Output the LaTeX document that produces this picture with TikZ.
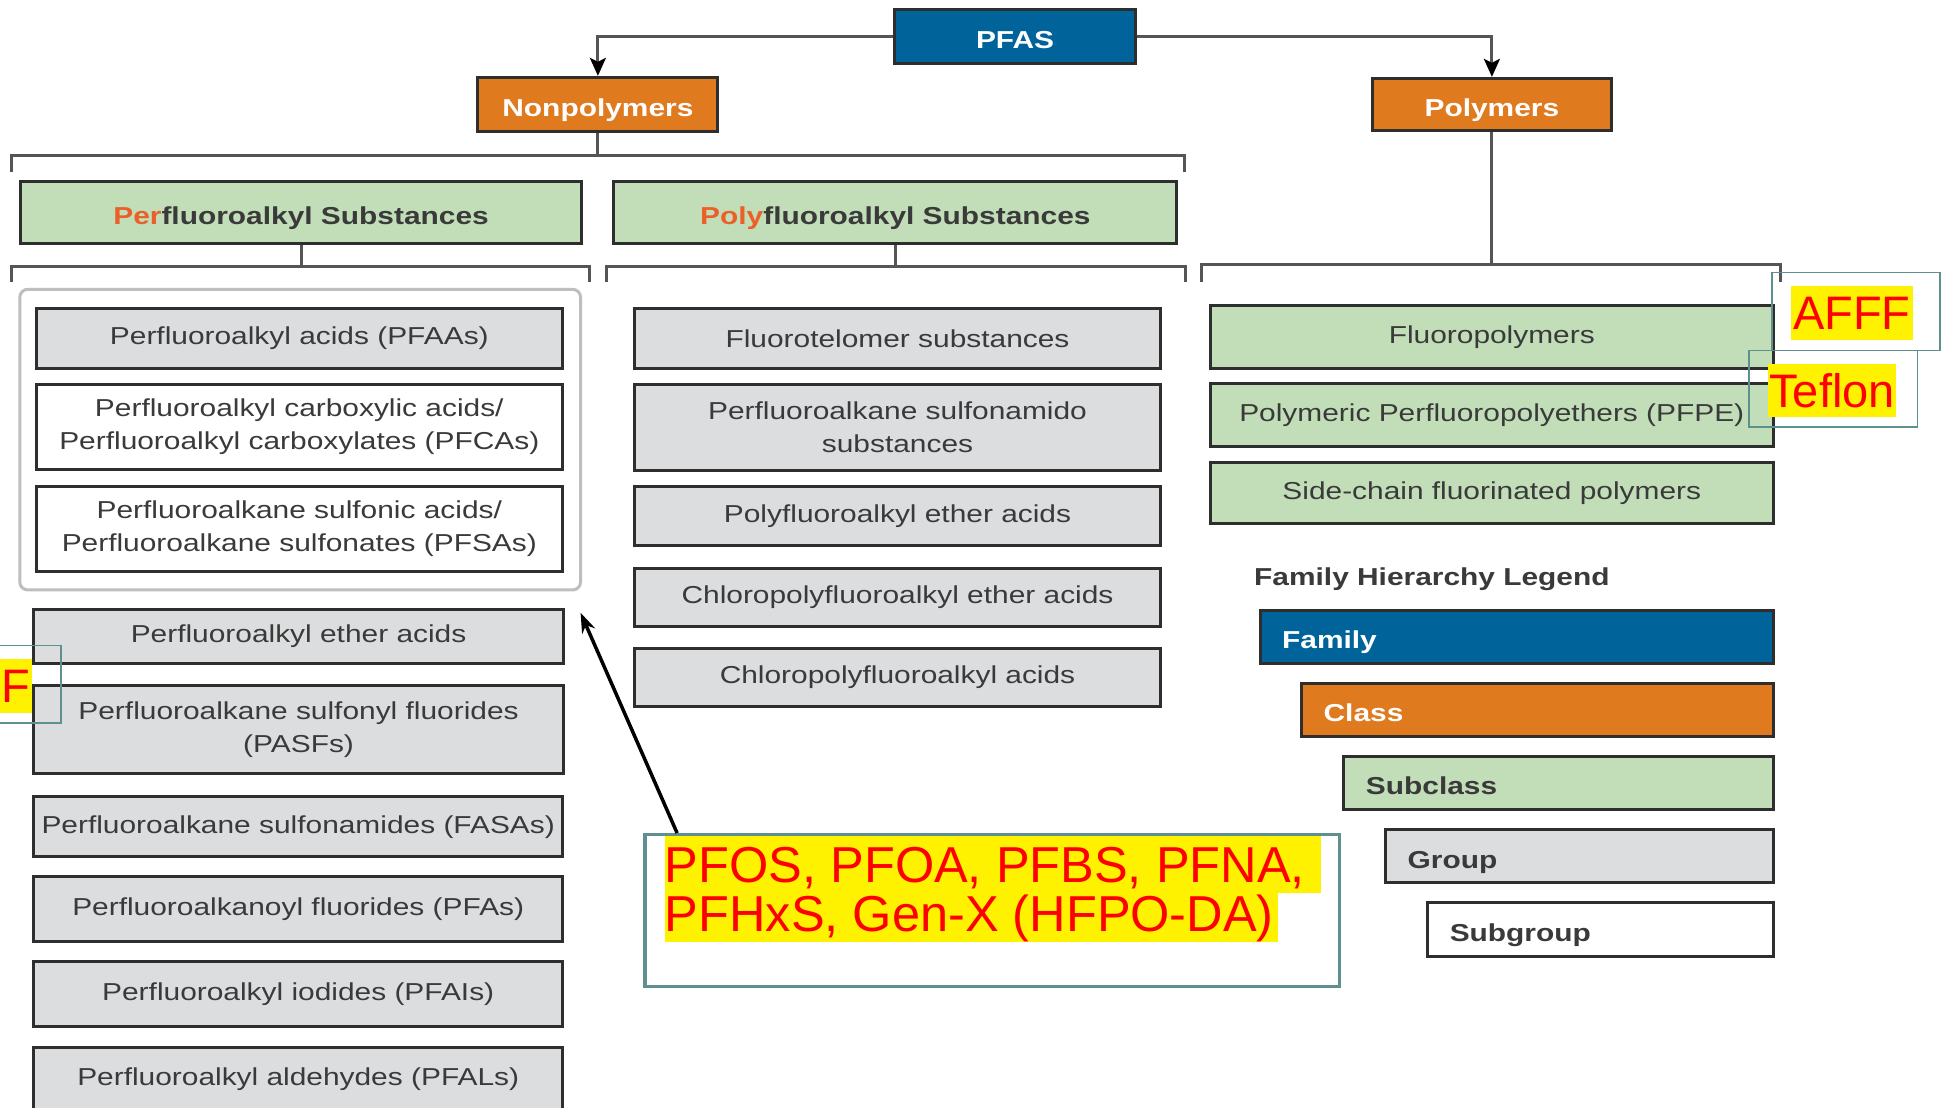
\documentclass[tikz,border=0pt]{standalone}
\usepackage{fontspec}
\setmainfont{Liberation Sans}[FakeStretch=1.22]
\newfontfamily\annot{Liberation Sans}
\usetikzlibrary{arrows.meta}
\definecolor{famblue}{RGB}{0,99,154}
\definecolor{clsorange}{RGB}{224,122,30}
\definecolor{subgreen}{RGB}{193,222,184}
\definecolor{itemgray}{RGB}{220,221,223}
\definecolor{perorange}{RGB}{234,96,40}
\definecolor{txt}{RGB}{58,58,58}
\definecolor{boxline}{RGB}{46,46,46}
\definecolor{brk}{RGB}{85,85,85}
\definecolor{grpgray}{RGB}{190,190,190}
\definecolor{teal2}{RGB}{95,144,144}
\newcommand\fsz{\fontsize{24.5}{33}\selectfont}
\newcommand\bx[7]{\node[#2, minimum width={(#5-#3)*1.2379pt}, minimum height={(#6-#4)*1.2379pt}] (#1) at ({(#3+#5)/2},{(#4+#6)/2}) {#7};}
\tikzset{
  base/.style={draw=boxline, line width=3pt, inner sep=0pt, font=\fsz, text=txt, align=center},
  head/.style={text height=24pt, text depth=0pt},
  itembox/.style={base, fill=itemgray},
  itemw/.style={base, fill=white},
  pgreen/.style={base, fill=subgreen},
  subbox/.style={base, fill=subgreen, font=\fsz\bfseries},
  clsbox/.style={base, fill=clsorange, text=white, font=\fsz\bfseries},
  fambox/.style={base, fill=famblue, text=white, font=\fsz\bfseries},
  leg/.style={align=left, inner xsep=22pt},
  grpbox/.style={draw=grpgray, line width=3pt, rounded corners=8pt, inner sep=0pt},
  brkline/.style={draw=brk, line width=3pt},
  conn/.style={draw=brk, line width=3pt, -{Stealth[length=18pt,width=16pt,inset=4pt,color=black]}},
  anbox/.style={draw=teal2, line width=1.6pt, inner sep=0pt},
  anboxthick/.style={draw=teal2, line width=3.5pt, inner sep=0pt},
  hl/.style={fill=yellow, text=red, inner sep=0pt, font=\annot\fontsize{47}{47}\selectfont, text height=33.6pt, text depth=0pt},
  hlmain/.style={fill=yellow, text=red, inner sep=0pt, font=\annot\fontsize{50.5}{50.5}\selectfont, anchor=north west},
}
\begin{document}
\begin{tikzpicture}[x=1.2379pt,y=-1.2379pt]
\useasboundingbox[fill=white] (0,0) rectangle (1568,895);

% top level
\bx{pfas}{fambox,head}{723}{7.3}{917}{51}{PFAS}
\bx{nonpoly}{clsbox,head}{386}{62.5}{580}{106}{Nonpolymers}
\bx{polym}{clsbox,head}{1108.4}{63.3}{1302}{105.8}{Polymers}
\draw[conn] (pfas.west) -| (nonpoly.north);
\draw[conn] (pfas.east) -| (polym.north);

% subclasses
\bx{perf}{subbox,head}{16.7}{146.8}{469.7}{196.6}{{\color{perorange}Per}fluoroalkyl Substances}
\bx{polyf}{subbox,head}{496}{146.8}{950.6}{196.6}{{\color{perorange}Poly}fluoroalkyl Substances}

% brackets
\draw[brkline] (nonpoly.south) -- (nonpoly.south |- 0,126);
\draw[brkline] (9,139) -- (9,126) -- (957,126) -- (957,139);
\draw[brkline] (perf.south) -- (perf.south |- 0,215);
\draw[brkline] (9,228) -- (9,215) -- (476,215) -- (476,228);
\draw[brkline] (polyf.south) -- (polyf.south |- 0,215);
\draw[brkline] (490,228) -- (490,215) -- (958,215) -- (958,228);
\draw[brkline] (polym.south) -- (polym.south |- 0,214);
\draw[brkline] (971,228) -- (971,214) -- (1438,214) -- (1438,228);

% perfluoroalkyl column
\bx{grp}{grpbox}{16}{233.7}{469}{476.6}{}
\bx{pfaa}{itembox}{29.4}{249}{454.2}{297.5}{Perfluoroalkyl acids (PFAAs)}
\bx{pfca}{itemw}{29.4}{311}{454.2}{379}{Perfluoroalkyl carboxylic acids/\\Perfluoroalkyl carboxylates (PFCAs)}
\bx{pfsa}{itemw}{29.4}{393.1}{454.2}{461.8}{Perfluoroalkane sulfonic acids/\\Perfluoroalkane sulfonates (PFSAs)}
\bx{ether}{itembox}{27.2}{492.2}{455.2}{535.8}{Perfluoroalkyl ether acids}
\bx{pasf}{itembox}{27.2}{553.4}{455.2}{624.7}{Perfluoroalkane sulfonyl fluorides\\(PASFs)}
\bx{fasa}{itembox}{27.4}{643.6}{454.4}{692}{Perfluoroalkane sulfonamides (FASAs)}
\bx{pfaf}{itembox}{27.4}{708.2}{454.4}{760.7}{Perfluoroalkanoyl fluorides (PFAs)}
\bx{pfai}{itembox}{27.4}{776.9}{454.4}{829.4}{Perfluoroalkyl iodides (PFAIs)}
\bx{pfal}{itembox}{27.4}{846}{454.4}{897}{Perfluoroalkyl aldehydes (PFALs)}

% polyfluoroalkyl column
\bx{ftel}{itembox}{512.5}{249}{937.6}{297.5}{Fluorotelomer substances}
\bx{sam}{itembox}{512.5}{311}{937.6}{379.7}{Perfluoroalkane sulfonamido\\substances}
\bx{pea}{itembox}{512.5}{393}{937.6}{440.3}{Polyfluoroalkyl ether acids}
\bx{cpea}{itembox}{512.5}{459}{937.6}{506.2}{Chloropolyfluoroalkyl ether acids}
\bx{cpa}{itembox}{512.5}{523.7}{937.6}{570.9}{Chloropolyfluoroalkyl acids}

% polymers column
\bx{fluoro}{pgreen}{977.9}{247}{1432.3}{297.5}{Fluoropolymers}
\bx{pfpe}{pgreen}{977.9}{310.2}{1432.3}{360.8}{Polymeric Perfluoropolyethers (PFPE)}
\bx{side}{pgreen}{977.9}{374}{1432.3}{422.5}{Side-chain fluorinated polymers}

% legend
\node[anchor=base west, font=\fsz\bfseries, text=txt, inner sep=0pt] (legtitle) at (1013,473) {Family Hierarchy Legend};
\bx{lfam}{fambox,leg,head,text width=468.9pt}{1018}{493.3}{1432.3}{535.8}{Family}
\bx{lcls}{clsbox,leg,head,text width=427.4pt}{1051.5}{552}{1432.3}{595.1}{Class}
\bx{lsub}{subbox,leg,head,text width=385.1pt}{1085.7}{611.2}{1432.3}{653.8}{Subclass}
\bx{lgrp}{itembox,leg,head,text width=343.3pt,font=\fsz\bfseries}{1119.4}{670}{1432.3}{713}{Group}
\bx{lsgrp}{itemw,leg,head,text width=301.3pt,font=\fsz\bfseries}{1153.4}{729.2}{1432.3}{772.3}{Subgroup}

% annotations
\bx{afffbox}{anbox}{1431.5}{220}{1567}{283}{}
\bx{afff}{hl}{1447}{231}{1545}{275}{AFFF}
\bx{teflonbox}{anbox}{1413}{283}{1549}{345}{}
\bx{teflon}{hl}{1428}{294}{1532}{337}{Teflon}
\bx{fbox}{anbox}{-20}{521.6}{49.5}{584}{}
\bx{fleft}{hl}{0}{532}{25.5}{576}{F}

\bx{annotbox}{anboxthick}{521}{674}{1082}{797}{}
\node[hlmain, minimum height=57pt, text height=36.2pt, text depth=0pt] (line1) at (537,675) {PFOS, PFOA, PFBS, PFNA,\kern16pt};
\node[hlmain, minimum height=49.5pt, text height=36.2pt, text depth=8.3pt] (line2) at (537,721) {PFHxS, Gen-X (HFPO-DA)\kern4pt};

\coordinate (astart) at (547,673);
\coordinate (atip) at (469,495);
\draw[line width=3.5pt, -{Stealth[length=20pt,width=14pt]}] (astart) -- (atip);
\end{tikzpicture}
\end{document}
